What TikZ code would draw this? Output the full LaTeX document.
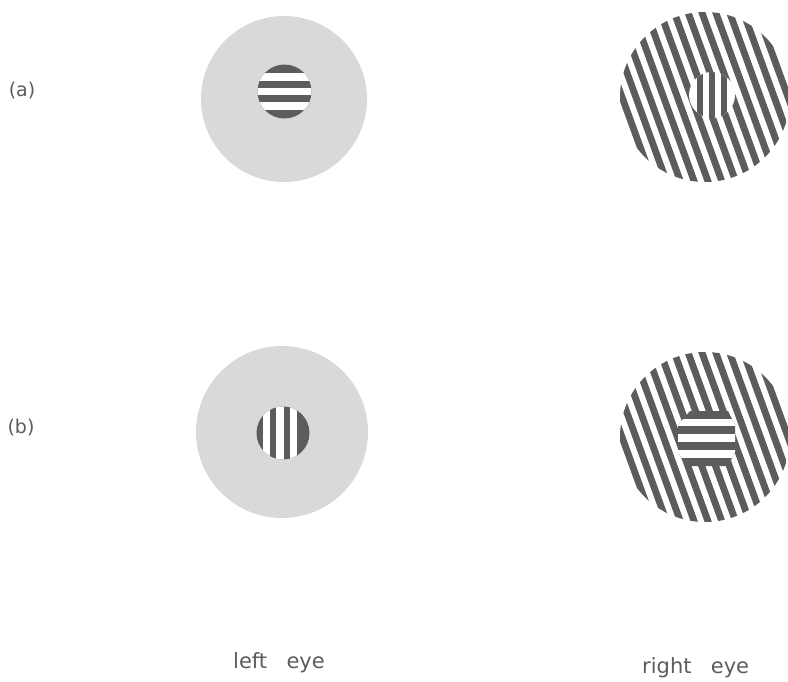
\documentclass[tikz,border=0pt]{standalone}
\usepackage{fontspec}
\newfontfamily\labelfont[WordSpace=2.9]{DejaVu Sans}
\usetikzlibrary{calc}
\definecolor{stripegray}{gray}{0.36}
\definecolor{screengray}{gray}{0.85}
\definecolor{textgray}{gray}{0.36}

\begin{document}
\begin{tikzpicture}[x=1pt, y=-1pt,
  darkstripe/.style={draw=stripegray, line width=6.8pt},
  whitestripe/.style={draw=white, line width=7.2pt},
  eyelabel/.style={font=\labelfont\fontsize{21}{25}\selectfont, text=textgray, inner sep=0pt, anchor=base west},
  rowlabel/.style={font=\labelfont\fontsize{19}{23}\selectfont, text=textgray, inner sep=0pt}]
  \useasboundingbox (0,0) rectangle (788,681);
  % Centres of the four fields
  \coordinate (la) at (284,99);
  \coordinate (lb) at (282,432);
  \coordinate (ra) at (705,97);
  \coordinate (rb) at (705,437);

  % Left eye (a): screen with horizontal grating in the middle
  \fill[screengray] (la) circle (83);
  \fill[stripegray] (284.5,91.5) circle (27);
  \begin{scope}
    \clip (284.5,91.5) circle (27);
    \foreach \k in {-1,0,1}
      \draw[whitestripe] (250,91.5+\k*14.5) -- (320,91.5+\k*14.5);
  \end{scope}

  % Left eye (b): same screen, vertical grating in the middle
  \fill[screengray] (lb) circle (86);
  \fill[stripegray] (283,433) circle (26.5);
  \begin{scope}
    \clip (283,433) circle (26.5);
    \foreach \k in {-1,0,1}
      \draw[whitestripe] (280+\k*13.5,400) -- (280+\k*13.5,466);
  \end{scope}

  % Right eye (a): oblique grating, vertical grating in a small disc
  \begin{scope}
    \clip (ra) circle (85);
    \foreach \k in {-8,...,8}
      \draw[darkstripe] ($(ra)+(-20:\k*13)+(70:-110)$) -- ($(ra)+(-20:\k*13)+(70:110)$);
  \end{scope}
  \fill[white] (712,95) circle (23);
  \begin{scope}
    \clip (712,95) circle (23);
    \foreach \k in {-1,0,1}
      \draw[darkstripe] (712+\k*12,65) -- (712+\k*12,125);
  \end{scope}

  % Right eye (b): oblique grating, horizontal grating in the centre patch
  \begin{scope}
    \clip (rb) circle (85);
    \foreach \k in {-8,...,8}
      \draw[darkstripe] ($(rb)+(-20:\k*13)+(70:-110)$) -- ($(rb)+(-20:\k*13)+(70:110)$);
    \fill[stripegray] (690,411) -- (728,411) -- (735,425) -- (735,452) -- (728,466)
      -- (686,466) -- (678,452) -- (678,425) -- cycle;
    \clip (690,411) -- (728,411) -- (735,425) -- (735,452) -- (728,466)
      -- (686,466) -- (678,452) -- (678,425) -- cycle;
    \foreach \y in {422.5,438,454}
      \draw[whitestripe, line width=7.5pt] (670,\y) -- (740,\y);
  \end{scope}

  % Labels
  \node[rowlabel] (rowa) at (22,91) {(a)};
  \node[rowlabel] (rowb) at (21,428) {(b)};
  \node[eyelabel] (lefteye) at (233,668) {left eye};
  \node[eyelabel] (righteye) at (642,673) {right eye};
\end{tikzpicture}
\end{document}
